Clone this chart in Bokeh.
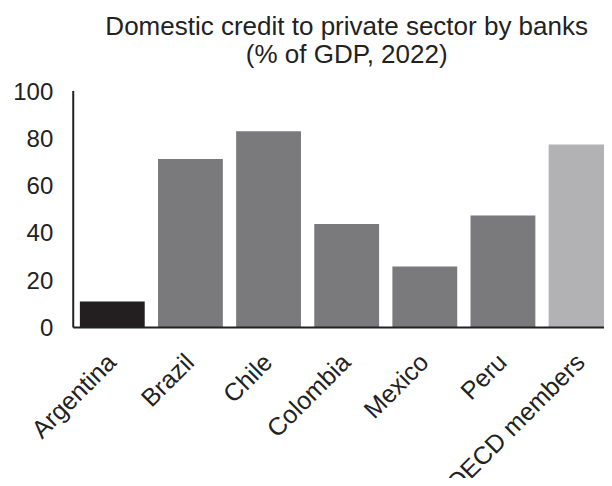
import math
from bokeh.plotting import figure
from bokeh.models import Range1d, ColumnDataSource, Label, LabelSet
from bokeh.core.properties import value
from bokeh.embed import file_html
from bokeh.resources import INLINE

countries = ["Argentina", "Brazil", "Chile", "Colombia", "Mexico", "Peru", "OECD members"]
values = [11.0, 71.3, 83.0, 43.8, 25.8, 47.4, 77.4]
colors = ["#231f20", "#7a7a7c", "#7a7a7c", "#7a7a7c", "#7a7a7c", "#7a7a7c", "#b2b2b4"]
y_ticks = [0, 20, 40, 60, 80, 100]
y_tick_labels = ["0", "20", "40", "60", "80", "100"]
title_lines = ["Domestic credit to private sector by banks", "(% of GDP, 2022)"]

xs = list(range(len(countries)))
X0 = xs[0] - 0.5          # left edge of the first category slot = value axis position
X1 = xs[-1] + 0.5         # right edge of the last category slot
src = ColumnDataSource(dict(x=xs, top=values, color=colors,
                            base=[0] * len(xs), name=countries))
tick_src = ColumnDataSource(dict(x=[X0] * len(y_ticks), y=y_ticks, label=y_tick_labels))

FONT = "Liberation Sans"
INK = "#222222"

W, H = 604, 478
# the frame fills the whole canvas so rotated labels may run to the edges
p = figure(width=W, height=H, output_backend="svg", toolbar_location=None,
           x_range=Range1d(X0 - 0.931, 6.30), y_range=Range1d(-63.8, 138.3),
           min_border_left=0, min_border_right=0, min_border_top=0, min_border_bottom=0)
p.title.visible = False
p.xaxis.visible = False
p.yaxis.visible = False
p.xgrid.visible = False
p.ygrid.visible = False
p.outline_line_color = None

p.vbar(x="x", top="top", width=0.83, bottom=0, fill_color="color", line_color=None, source=src)

# value axis line (0-100) and category baseline
p.segment(x0=[X0, X0], y0=[min(y_ticks), 0], x1=[X0, X1], y1=[max(y_ticks), 0],
          line_color=INK, line_width=2)

# value tick labels
p.add_layout(LabelSet(x="x", y="y", text="label", source=tick_src, x_offset=-20,
                      text_align="right", text_baseline="middle",
                      text_font=value(FONT), text_font_size="24px", text_color=INK))

# rotated category labels under the baseline
p.add_layout(LabelSet(x="x", y="base", text="name", source=src, angle=math.pi / 4,
                      text_align="right", text_baseline="middle", y_offset=-30, x_offset=-1,
                      text_font=value(FONT), text_font_size="25px", text_color=INK))

# two centred title lines
mid = (len(countries) - 1) / 2
for txt, from_bottom in zip(title_lines, [453, 425]):
    p.add_layout(Label(x=mid, y=from_bottom, x_units="data", y_units="screen",
                       text=txt, text_align="center", text_baseline="alphabetic",
                       text_font=FONT, text_font_size="26px", text_color=INK))

open("out.html", "w").write(file_html(p, INLINE))
